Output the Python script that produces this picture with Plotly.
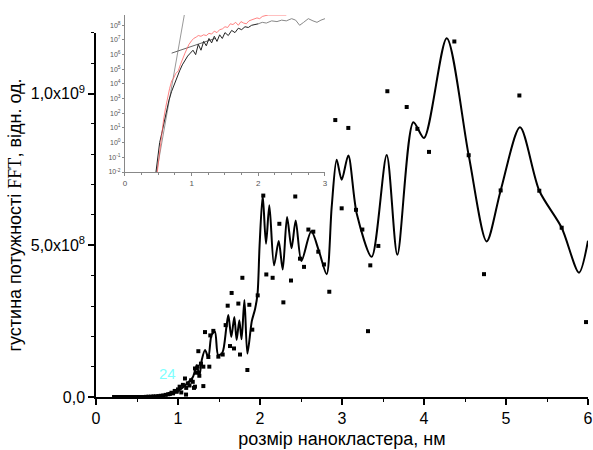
import plotly.graph_objects as go

# ---------------- main chart data (y in units of 1e8) ----------------
line_x = [0.22, 0.5, 0.7, 0.8, 0.9, 0.96, 1.02, 1.1, 1.18, 1.23, 1.26, 1.29, 1.33, 1.37, 1.41, 1.45,
          1.49, 1.54, 1.59, 1.614, 1.65, 1.687, 1.715, 1.748, 1.775, 1.81, 1.846, 1.9, 1.94, 1.97,
          1.995, 2.033, 2.073, 2.114, 2.171, 2.228, 2.277, 2.33, 2.385, 2.435, 2.505, 2.625, 2.72,
          2.813, 2.874, 2.935, 2.996, 3.077, 3.18, 3.362, 3.545, 3.675, 3.87, 4.0, 4.277, 4.545,
          4.764, 4.935, 5.171, 5.406, 5.679, 5.89, 6.0]
line_y = [0.0, 0.0, 0.02, 0.05, 0.12, 0.15, 0.23, 0.42, 0.65, 1.05, 0.68, 1.22, 1.55, 1.3, 2.05, 2.15,
          1.38, 1.45, 2.3, 2.7, 1.98, 2.64, 1.88, 2.53, 1.9, 3.2, 1.43, 2.5, 2.9, 3.4,
          5.0, 6.64, 5.05, 6.32, 4.34, 5.14, 4.2, 5.93, 4.9, 5.82, 4.48, 5.46, 4.8,
          4.05, 6.26, 7.82, 7.16, 7.96, 6.04, 4.62, 7.98, 4.69, 9.06, 8.54, 11.83, 7.97,
          5.13, 6.81, 8.89, 6.8, 5.58, 4.1, 5.15]

pts_x = [0.22, 0.25, 0.28, 0.31, 0.34, 0.37, 0.40, 0.43, 0.46, 0.49, 0.52, 0.55, 0.58, 0.61, 0.64,
         0.67, 0.70, 0.73, 0.76, 0.79, 0.82, 0.85, 0.88, 0.90, 0.92, 0.94, 0.96, 0.98,
         0.984, 1.00, 1.02, 1.04, 1.06, 1.085, 1.098, 1.10, 1.12, 1.14, 1.16, 1.18, 1.195, 1.207,
         1.207, 1.22, 1.24, 1.248, 1.26, 1.28, 1.309, 1.309, 1.329, 1.37, 1.382, 1.394, 1.431,
         1.492, 1.545, 1.581, 1.606, 1.634, 1.654, 1.683, 1.736, 1.756, 1.785, 1.846, 1.87, 1.906,
         1.972, 2.04, 2.077, 2.154, 2.236, 2.285, 2.378, 2.43, 2.488, 2.537, 2.59, 2.65, 2.711,
         2.78, 2.845, 2.918, 2.996, 3.077, 3.171, 3.248, 3.317, 3.345, 3.443, 3.553, 3.789, 3.919,
         4.061, 4.37, 4.545, 4.732, 4.935, 5.163, 5.406, 5.679, 5.976]
pts_y = [0, 0, 0, 0, 0, 0, 0, 0, 0, 0, 0, 0, 0, 0.005, 0.01,
         0.01, 0.02, 0.02, 0.03, 0.04, 0.05, 0.07, 0.09, 0.1, 0.14, 0.12, 0.2, 0.18,
         0.18, 0.25, 0.34, 0.15, 0.4, 0.61, 0.08, 0.3, 0.45, 0.38, 0.55, 0.5, 0.3, 0.34,
         0.94, 0.8, 1.0, 1.51, 0.7, 1.1, 0.36, 1.0, 2.14, 1.32, 1.0, 2.03, 2.18,
         1.33, 1.4, 2.37, 3.01, 1.68, 3.43, 1.6, 3.08, 1.4, 3.93, 0.89, 3.04, 2.22,
         3.35, 6.64, 4.04, 3.93, 5.71, 3.12, 3.84, 6.61, 4.56, 4.29, 5.52, 5.45, 4.79,
         4.37, 3.47, 9.13, 6.22, 8.87, 6.17, 5.52, 2.17, 4.34, 4.98, 10.08, 9.56, 8.84,
         8.08, 11.72, 7.97, 4.05, 6.81, 9.94, 6.8, 5.58, 2.47]

y_tick_vals = [0, 5, 10]
y_tick_text = ["0,0", "5,0x10<sup>8</sup>", "1,0x10<sup>9</sup>"]

# ---------------- inset data (y = log10 of value) ----------------
red_x = [0.485, 0.51, 0.53, 0.55, 0.58, 0.61, 0.64, 0.67, 0.70, 0.73, 0.76, 0.80, 0.83, 0.86, 0.90,
         0.93, 0.96, 1.00, 1.03, 1.07, 1.10, 1.14, 1.18, 1.22, 1.26, 1.30, 1.34, 1.38, 1.42, 1.46,
         1.50, 1.54, 1.58, 1.62, 1.66, 1.70, 1.74, 1.78, 1.82, 1.86, 1.90, 1.94, 1.98, 2.02, 2.06,
         2.10, 2.15, 2.25, 2.35, 2.42]
red_y = [-2, -1.0, 0.0, 0.7, 1.6, 2.4, 3.1, 3.7, 4.2, 4.4, 4.7, 4.9, 5.3, 5.7, 6.1,
         6.4, 6.7, 6.95, 7.1, 7.2, 7.3, 7.25, 7.35, 7.3, 7.45, 7.4, 7.6, 7.5, 7.7, 7.75,
         7.9, 7.85, 8.1, 8.05, 8.2, 8.0, 8.25, 8.15, 8.1, 8.3, 8.35, 8.4, 8.5, 8.45, 8.6,
         8.65, 8.7, 8.7, 8.7, 8.7]
black_x = [0.465, 0.49, 0.52, 0.55, 0.58, 0.62, 0.66, 0.70, 0.74, 0.78, 0.82, 0.86, 0.90, 0.94, 0.98,
           1.02, 1.06, 1.10, 1.14, 1.18, 1.22, 1.26, 1.30, 1.34, 1.38, 1.42, 1.46, 1.50, 1.55, 1.60,
           1.65, 1.70, 1.75, 1.80, 1.85, 1.90, 1.95, 2.00]
black_y = [-2, -1.0, 0.0, 0.6, 1.3, 2.1, 2.9, 3.5, 4.0, 4.5, 4.9, 5.3, 5.6, 5.9, 6.1,
           6.3, 6.0, 6.7, 6.3, 6.9, 6.6, 7.1, 6.8, 7.25, 6.9, 7.35, 7.1, 7.5, 7.3, 7.65,
           7.5, 7.8, 7.7, 7.9, 7.85, 8.0, 8.05, 8.1]
gray_x = [2.0, 2.06, 2.12, 2.2, 2.28, 2.35, 2.42, 2.5, 2.56, 2.62, 2.68, 2.75, 2.82, 2.88, 2.94, 3.0]
gray_y = [8.1, 8.2, 8.15, 8.3, 8.25, 8.35, 8.3, 8.45, 8.35, 8.0, 8.2, 8.45, 8.3, 8.2, 8.35, 8.45]
fit1_x = [0.475, 0.89]
fit1_y = [-2, 8.7]
fit2_x = [0.70, 1.35]
fit2_y = [6.1, 7.1]

inset_tick_vals = [-2, -1, 0, 1, 2, 3, 4, 5, 6, 7, 8]
inset_tick_text = ["10<sup>%d</sup>" % v for v in inset_tick_vals]

FONT = "Liberation Sans, Arial, sans-serif"

fig = go.Figure()
fig.add_trace(go.Scatter(x=line_x, y=line_y, mode="lines",
                         line=dict(color="black", width=2, shape="spline", smoothing=0.8),
                         xaxis="x", yaxis="y", hoverinfo="skip"))
fig.add_trace(go.Scatter(x=pts_x, y=pts_y, mode="markers",
                         marker=dict(symbol="square", size=4, color="black", line=dict(width=0)),
                         xaxis="x", yaxis="y"))

# inset traces
fig.add_trace(go.Scatter(x=fit1_x, y=fit1_y, mode="lines", line=dict(color="#999999", width=1),
                         xaxis="x2", yaxis="y2"))
fig.add_trace(go.Scatter(x=fit2_x, y=fit2_y, mode="lines", line=dict(color="#666666", width=1),
                         xaxis="x2", yaxis="y2"))
fig.add_trace(go.Scatter(x=gray_x, y=gray_y, mode="lines", line=dict(color="#888888", width=1),
                         xaxis="x2", yaxis="y2"))
fig.add_trace(go.Scatter(x=black_x, y=black_y, mode="lines", line=dict(color="#222222", width=1),
                         xaxis="x2", yaxis="y2"))
fig.add_trace(go.Scatter(x=red_x, y=red_y, mode="lines", line=dict(color="rgba(255,90,90,0.75)", width=1),
                         xaxis="x2", yaxis="y2"))

fig.add_annotation(x=0.866, y=0.76, xref="x", yref="y", text="24", showarrow=False,
                   font=dict(color="#80ffff", size=15, family=FONT))

fig.update_layout(
    width=593, height=450,
    margin=dict(l=96, r=5, t=15, b=53, autoexpand=False),
    plot_bgcolor="white", paper_bgcolor="white",
    showlegend=False,
    font=dict(family=FONT, color="black"),
    xaxis=dict(domain=[0, 1], range=[0, 6], showgrid=False, zeroline=False, automargin=False,
               showline=True, linecolor="black", linewidth=1.5,
               ticks="outside", ticklen=6, tickwidth=1.5, tickcolor="black",
               dtick=1, tick0=0, tickfont=dict(size=16),
               minor=dict(ticks="outside", ticklen=3, dtick=0.5, tick0=0, tickcolor="black", tickwidth=1),
               title=dict(text="розмір нанокластера, нм", font=dict(size=18), standoff=6)),
    yaxis=dict(domain=[0, 0.9529], range=[0, 12], showgrid=False, zeroline=False, automargin=False,
               showline=True, linecolor="black", linewidth=1.5,
               ticks="outside", ticklen=6, tickwidth=1.5, tickcolor="black",
               tickmode="array", tickvals=y_tick_vals, ticktext=y_tick_text, tickfont=dict(size=16),
               minor=dict(ticks="outside", ticklen=3, tickmode="linear", dtick=1, tick0=0,
                          tickcolor="black", tickwidth=1),
               title=dict(text="густина потужності <span style='font-family:Liberation Serif'>FFT</span>, відн. од.",
                          font=dict(size=18), standoff=4)),
    xaxis2=dict(domain=[0.0589, 0.4654], anchor="y2", range=[0, 3], showgrid=False, zeroline=False,
                automargin=False,
                showline=True, linecolor="#888888", linewidth=1,
                ticks="outside", ticklen=3, tickcolor="#888888", dtick=1, tick0=0,
                tickfont=dict(size=8, color="#555555"),
                minor=dict(ticks="outside", ticklen=2, dtick=0.25, tick0=0, tickcolor="#888888")),
    yaxis2=dict(domain=[0.589, 1.0], anchor="x2", range=[-2, 8.7], showgrid=False, zeroline=False,
                automargin=False,
                showline=True, linecolor="#888888", linewidth=1,
                ticks="outside", ticklen=2, tickcolor="#888888",
                tickmode="array", tickvals=inset_tick_vals, ticktext=inset_tick_text,
                tickfont=dict(size=7, color="#555555")),
)

# remove the default page margin so the 593x450 figure fills the window exactly
fig.write_html("out.html",
               config={"displayModeBar": False},
               post_script="document.body.style.margin='0';document.body.style.overflow='hidden';")
